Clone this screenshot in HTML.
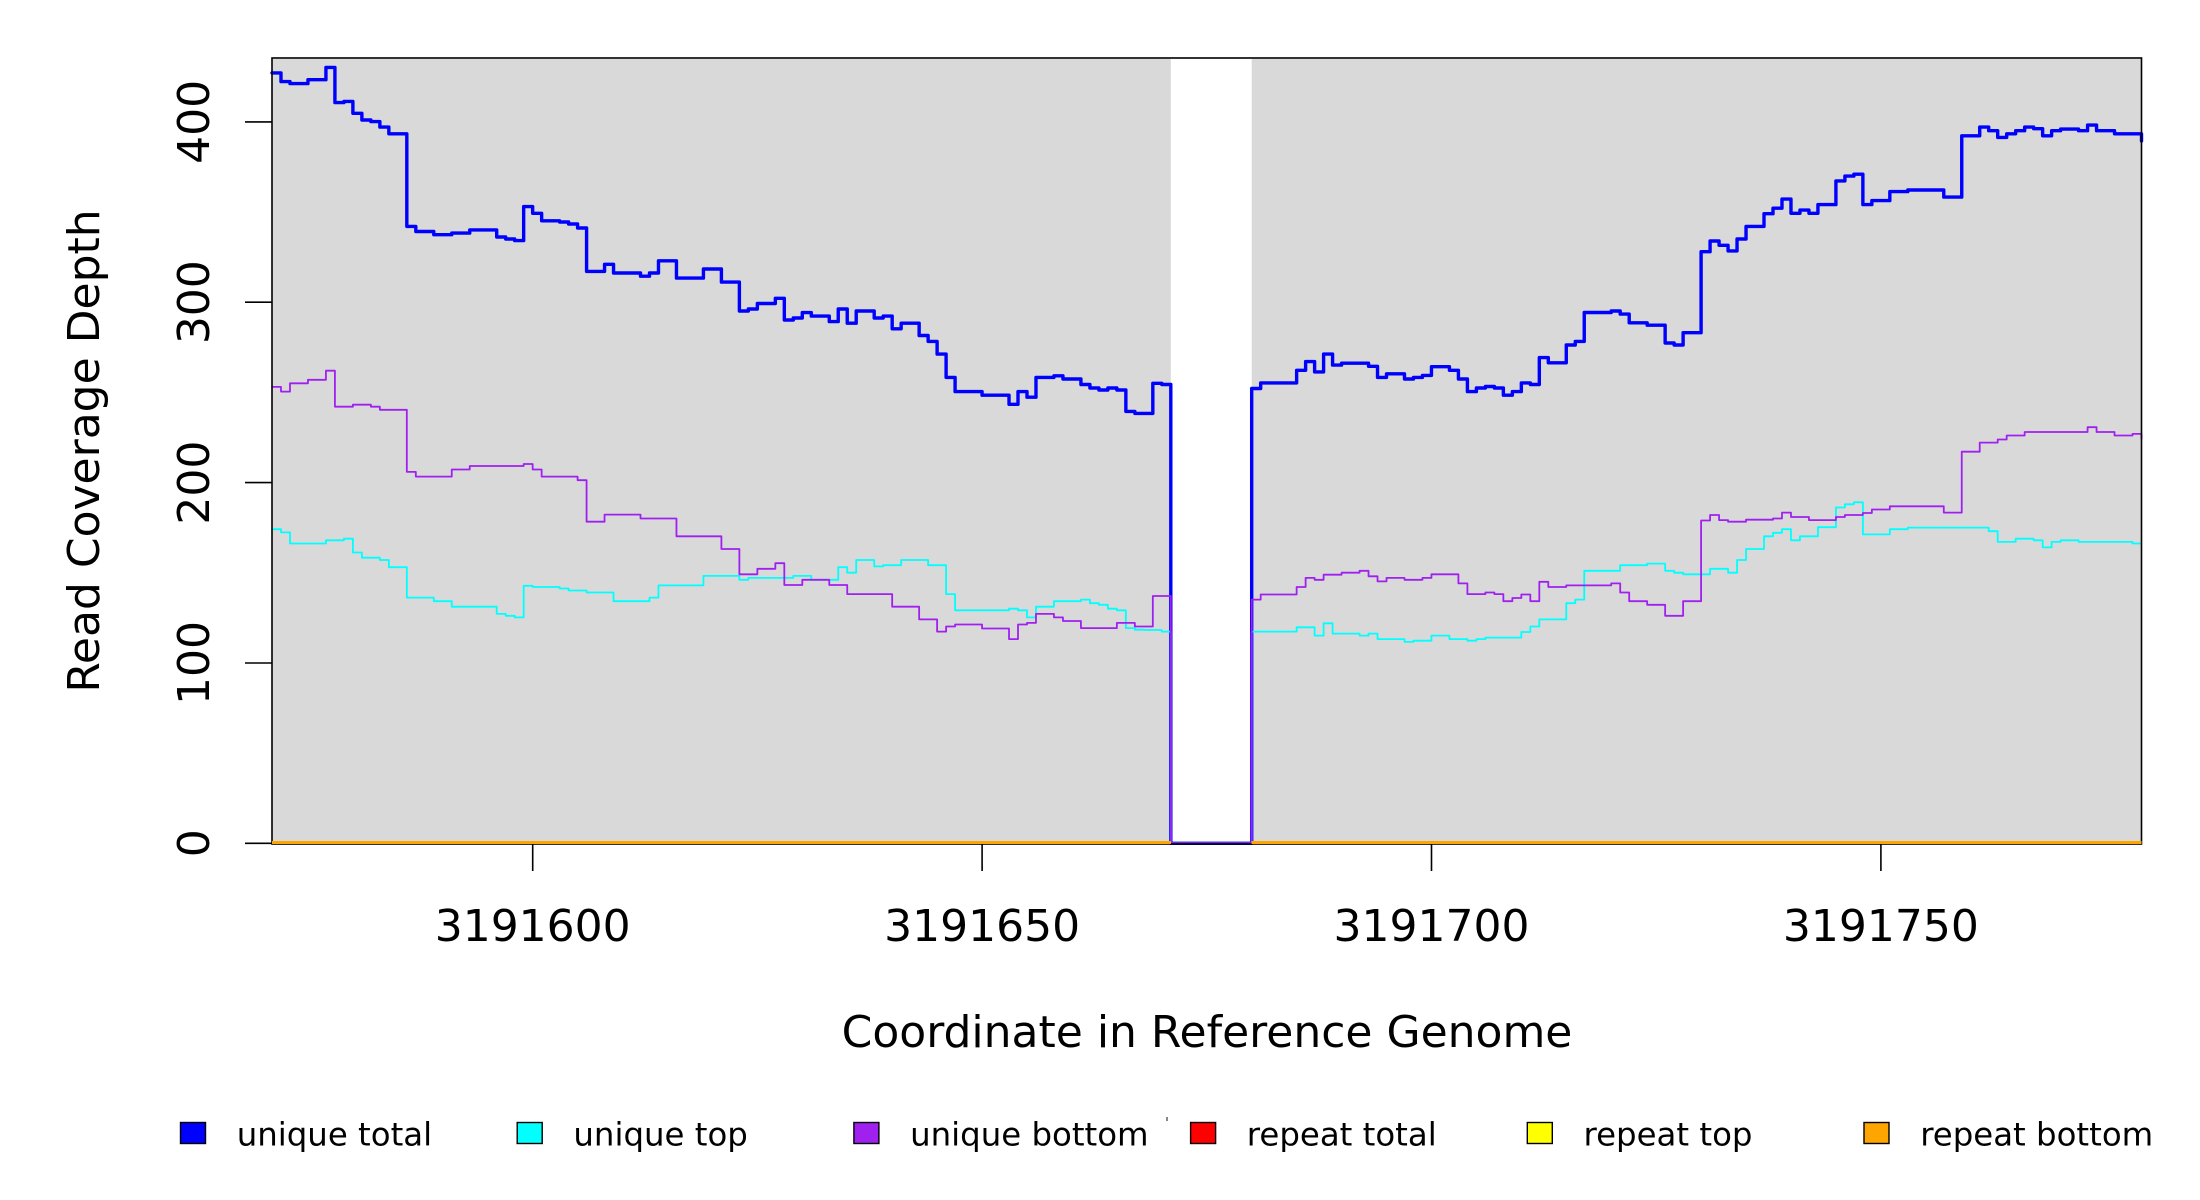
<!DOCTYPE html>
<html>
<head>
<meta charset="utf-8">
<style>
html,body{margin:0;padding:0;background:#fff;}
svg{display:block;}
text{font-family:"DejaVu Sans","Liberation Sans",sans-serif;fill:#000;}
</style>
</head>
<body>
<svg width="2200" height="1200" viewBox="0 0 2200 1200" xmlns="http://www.w3.org/2000/svg">
<rect x="0" y="0" width="2200" height="1200" fill="#fff"/>
<!-- gray covered regions -->
<rect x="272" y="59" width="898.8" height="784.3" fill="#d9d9d9"/>
<rect x="1251.7" y="59" width="889.8" height="784.3" fill="#d9d9d9"/>

<g transform="translate(272 0) scale(8.988 1)" fill="none" stroke-linejoin="round" stroke-linecap="round">
<!-- unique total -->
<path vector-effect="non-scaling-stroke" stroke="#0000ff" stroke-width="3.4" d="M0 72.9 H1 V81.6 H2 V83.6 H4 V79.7 H6 V67.4 H7 V102.6 H8 V101.4 H9 V113.3 H10 V120 H11 V121.6 H12 V127.1 H13 V133.8 H15 V226.4 H16 V231.5 H18 V234.7 H20 V233.1 H22 V229.9 H25 V237 H26 V239 H27 V240.6 H28 V206.6 H29 V213.3 H30 V220.8 H32 V222 H33 V224 H34 V228 H35 V271.4 H37 V264.3 H38 V273 H41 V276.2 H42 V273 H43 V260.8 H45 V278.1 H48 V269 H50 V282.1 H52 V311 H53 V309 H54 V303.5 H56 V298.3 H57 V320 H58 V318 H59 V312.6 H60 V316.1 H62 V321.6 H63 V309 H64 V323.2 H65 V311 H67 V318 H68 V316.1 H69 V328.8 H70 V323.2 H72 V335.5 H73 V341.4 H74 V354.1 H75 V377.4 H76 V391.6 H79 V395.2 H82 V404.3 H83 V391.6 H84 V397.2 H85 V377.4 H87 V375.8 H88 V379 H90 V384.5 H91 V388 H92 V390 H93 V388 H94 V390 H95 V411.4 H96 V413.4 H98 V383.3 H99 V384.5 H100 V843.3 H109 V388.5 H110 V382.9 H114 V370.3 H115 V361.6 H116 V371.9 H117 V354.1 H118 V365.1 H119 V363.2 H122 V366.3 H123 V377.4 H124 V373.8 H126 V379 H127 V377.4 H128 V375.4 H129 V366.7 H131 V370.3 H132 V379 H133 V391.6 H134 V388 H135 V386.5 H136 V388 H137 V395.2 H138 V391.6 H139 V382.9 H140 V384.5 H141 V357.6 H142 V362.8 H144 V345 H145 V341.4 H146 V312.5 H149 V311 H150 V314.1 H151 V322.8 H153 V325.2 H155 V343 H156 V345 H157 V332.7 H159 V251.7 H160 V241 H161 V245.3 H162 V250.9 H163 V239 H164 V226.4 H166 V213.7 H167 V208.2 H168 V199.1 H169 V213.3 H170 V210.1 H171 V213.3 H172 V204.6 H174 V180.9 H175 V176.1 H176 V174.2 H177 V204.6 H178 V200.6 H180 V191.6 H182 V190 H186 V197.1 H188 V135.8 H190 V127.1 H191 V130.7 H192 V137.4 H193 V133.8 H194 V130.7 H195 V127.1 H196 V128.7 H197 V135.8 H198 V130.7 H199 V129.1 H201 V130.7 H202 V125.1 H203 V130.7 H205 V133.8 H208 V141"/>
<!-- unique top -->
<path vector-effect="non-scaling-stroke" stroke="#00ffff" stroke-width="1.8" d="M0 529.2 H1 V532.4 H2 V543.5 H6 V540.3 H8 V538.7 H9 V552.5 H10 V557.7 H12 V560 H13 V567.2 H15 V597.6 H18 V601.2 H20 V606.7 H25 V613.9 H26 V615.8 H27 V617.4 H28 V585.8 H29 V587 H32 V588.5 H33 V590.5 H35 V592.5 H38 V601.2 H42 V597.6 H43 V585.4 H48 V575.9 H52 V579.8 H53 V577.9 H58 V575.9 H60 V579.8 H63 V567.2 H64 V572.7 H65 V560 H67 V566.4 H68 V565.2 H70 V560 H73 V565.2 H75 V594.1 H76 V610.3 H82 V608.7 H83 V610.3 H84 V617.4 H85 V606.7 H87 V601.2 H90 V599.6 H91 V603.2 H92 V604.8 H93 V608.7 H94 V610.3 H95 V628.1 H96 V629.7 H97 V630 H99 V631.6 H100 V843.3 H109 V631.6 H114 V627.3 H116 V635.6 H117 V623.3 H118 V633.6 H121 V635.6 H122 V633.6 H123 V639.1 H126 V641.9 H127 V640.7 H129 V635.6 H131 V639.1 H133 V640.7 H134 V639.1 H135 V637.6 H139 V632 H140 V626.5 H141 V619.4 H144 V603.2 H145 V599.6 H146 V570.8 H150 V565.2 H153 V563.6 H155 V570.8 H156 V572.7 H157 V574.3 H160 V568.8 H162 V572.7 H163 V560 H164 V549 H166 V536.3 H167 V532.8 H168 V529.2 H169 V540.3 H170 V536.3 H172 V527.2 H174 V507.5 H175 V504.3 H176 V502.3 H177 V534.4 H180 V529.2 H182 V527.6 H191 V531.2 H192 V541.9 H194 V538.7 H196 V540.3 H197 V547.4 H198 V541.9 H199 V540.3 H201 V541.9 H207 V543.5 H208"/>
<!-- unique bottom -->
<path vector-effect="non-scaling-stroke" stroke="#a020f0" stroke-width="1.8" d="M0 386.9 H1 V391.6 H2 V383.3 H4 V379.8 H6 V370.7 H7 V406.7 H9 V404.7 H11 V406.7 H12 V409.8 H15 V471.9 H16 V476.6 H20 V469.5 H22 V466 H28 V464 H29 V469.5 H30 V476.6 H34 V480.2 H35 V521.7 H37 V514.6 H41 V518.5 H45 V536.3 H50 V549 H52 V574.3 H54 V568.8 H56 V563.2 H57 V585 H59 V579.8 H62 V585 H64 V594.1 H69 V606.7 H72 V619.4 H74 V631.6 H75 V626.5 H76 V624.5 H79 V628.5 H82 V639.1 H83 V624.5 H84 V622.9 H85 V613.9 H87 V617.4 H88 V621 H90 V628.1 H94 V622.9 H96 V626.5 H98 V596 H100 V843.3 H109 V599.6 H110 V594.5 H114 V587 H115 V577.9 H116 V579.8 H117 V574.7 H119 V572.7 H121 V570.8 H122 V576.3 H123 V581.4 H124 V577.9 H126 V579.8 H128 V577.9 H129 V574.3 H132 V583.4 H133 V594.1 H135 V592.5 H136 V594.1 H137 V601.2 H138 V598 H139 V594.5 H140 V601.2 H141 V581.8 H142 V587 H144 V585.4 H149 V583.4 H150 V592.5 H151 V601.2 H153 V604.8 H155 V615.8 H157 V601.2 H159 V520.5 H160 V515 H161 V520.1 H162 V521.7 H164 V519.7 H167 V518.5 H168 V512.6 H169 V517 H171 V520.1 H174 V517 H175 V515 H177 V513 H178 V509.5 H180 V506.3 H186 V512.6 H188 V451.7 H190 V442.6 H192 V439.5 H193 V435.5 H195 V432 H202 V427.2 H203 V432 H205 V435.5 H207 V433.9 H208 V439"/>
</g>

<!-- plot box -->
<rect x="272" y="58" width="1869.5" height="786" fill="none" stroke="#000" stroke-width="1.6"/>

<!-- repeat series at zero -->
<g stroke-width="3" fill="none">
<path d="M272 842.5 H1170.8 M1251.7 842.5 H2141.5" stroke="#ff0000"/>
<path d="M272 842.5 H1170.8 M1251.7 842.5 H2141.5" stroke="#ffff00"/>
<path d="M272 842.5 H1170.8 M1251.7 842.5 H2141.5" stroke="#ffa500"/>
</g>

<!-- y axis ticks -->
<g stroke="#000" stroke-width="1.6">
<line x1="245" y1="843.3" x2="272" y2="843.3"/>
<line x1="245" y1="663" x2="272" y2="663"/>
<line x1="245" y1="482.6" x2="272" y2="482.6"/>
<line x1="245" y1="302.2" x2="272" y2="302.2"/>
<line x1="245" y1="121.9" x2="272" y2="121.9"/>
</g>
<g font-size="44" text-anchor="middle">
<text transform="translate(209 843.3) rotate(-90)">0</text>
<text transform="translate(209 663) rotate(-90)">100</text>
<text transform="translate(209 482.6) rotate(-90)">200</text>
<text transform="translate(209 302.2) rotate(-90)">300</text>
<text transform="translate(209 121.9) rotate(-90)">400</text>
</g>
<text font-size="44" text-anchor="middle" transform="translate(99 451) rotate(-90)">Read Coverage Depth</text>

<!-- x axis ticks -->
<g stroke="#000" stroke-width="1.6">
<line x1="532.7" y1="844" x2="532.7" y2="871"/>
<line x1="982.1" y1="844" x2="982.1" y2="871"/>
<line x1="1431.5" y1="844" x2="1431.5" y2="871"/>
<line x1="1880.9" y1="844" x2="1880.9" y2="871"/>
</g>
<g font-size="44" text-anchor="middle">
<text x="532.7" y="941">3191600</text>
<text x="982.1" y="941">3191650</text>
<text x="1431.5" y="941">3191700</text>
<text x="1880.9" y="941">3191750</text>
</g>
<text font-size="44" text-anchor="middle" x="1207" y="1047">Coordinate in Reference Genome</text>

<!-- legend -->
<g stroke="#000" stroke-width="1.4">
<rect x="180.5" y="1122.5" width="25" height="21" fill="#0000ff"/>
<rect x="517.2" y="1122.5" width="25" height="21" fill="#00ffff"/>
<rect x="853.9" y="1122.5" width="25" height="21" fill="#a020f0"/>
<rect x="1190.6" y="1122.5" width="25" height="21" fill="#ff0000"/>
<rect x="1527.3" y="1122.5" width="25" height="21" fill="#ffff00"/>
<rect x="1864" y="1122.5" width="25" height="21" fill="#ffa500"/>
</g>
<rect x="1166" y="1117" width="2" height="4" fill="#888"/>
<g font-size="32.4">
<text x="236.7" y="1145.5">unique total</text>
<text x="573.4" y="1145.5">unique top</text>
<text x="910.1" y="1145.5">unique bottom</text>
<text x="1246.8" y="1145.5">repeat total</text>
<text x="1583.5" y="1145.5">repeat top</text>
<text x="1920.2" y="1145.5">repeat bottom</text>
</g>
</svg>
</body>
</html>
